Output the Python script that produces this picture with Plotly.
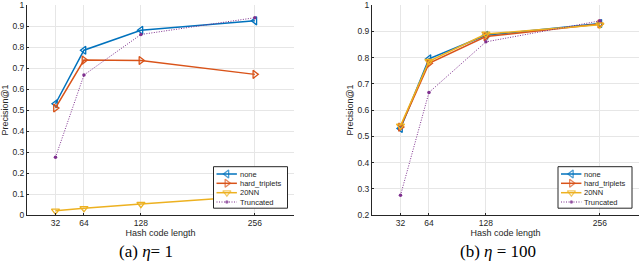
import plotly.graph_objects as go

hash_lengths = [32, 64, 128, 256]
x_tick_labels = ["32", "64", "128", "256"]
y_ticks_a = [0, 0.1, 0.2, 0.3, 0.4, 0.5, 0.6, 0.7, 0.8, 0.9, 1]
y_ticks_b = [0.2, 0.3, 0.4, 0.5, 0.6, 0.7, 0.8, 0.9, 1]

# Panel (a): eta = 1
a_none = [0.530, 0.785, 0.880, 0.925]
a_hard = [0.510, 0.738, 0.736, 0.670]
a_20nn = [0.020, 0.032, 0.052, 0.090]
a_trunc = [0.275, 0.667, 0.860, 0.940]

# Panel (b): eta = 100
b_none = [0.530, 0.795, 0.885, 0.930]
b_hard = [0.535, 0.778, 0.880, 0.928]
b_20nn = [0.540, 0.786, 0.890, 0.925]
b_trunc = [0.275, 0.667, 0.860, 0.940]

series_names = ["none", "hard_triplets", "20NN", "Truncated"]
colors = ["#0072BD", "#D95319", "#EDB120", "#7E2F8E"]
symbols = ["triangle-left-open", "triangle-right-open", "triangle-down-open", "circle"]

W, H = 640, 269
fig = go.Figure()

def style(i, name, legend_sample=False):
    trunc = name == "Truncated"
    msize = 3.5 if trunc else 7
    line = dict(color=colors[i], width=1 if trunc else 1.5,
                dash="1px,1.5px" if trunc else "solid")
    marker = dict(symbol=symbols[i], size=[0, msize, 0] if legend_sample else msize,
                  color=colors[i], line=dict(color=colors[i], width=0 if trunc else 1.3))
    return line, marker

def add_panel(data, xa, ya):
    for i, (name, vals) in enumerate(zip(series_names, data)):
        line, marker = style(i, name)
        fig.add_trace(go.Scatter(
            x=hash_lengths, y=vals, name=name, mode="lines+markers",
            xaxis=xa, yaxis=ya, showlegend=False, line=line, marker=marker))

add_panel([a_none, a_hard, a_20nn, a_trunc], "x", "y")
add_panel([b_none, b_hard, b_20nn, b_trunc], "x2", "y2")

# Compact MATLAB-style legends, drawn on a pixel-space overlay axis
legend_font = dict(family="Liberation Sans, Arial, sans-serif", size=7.5, color="#262626")
legend_boxes = [(213.5, 166.7), (558.0, 166.7)]
box_w, box_h = 74.0, 41.5
row_dy = [7.3, 16.6, 26.0, 35.3]
annotations = []
for (bx, by) in legend_boxes:
    fig.add_trace(go.Scatter(
        x=[bx, bx + box_w, bx + box_w, bx, bx], y=[by, by, by + box_h, by + box_h, by],
        mode="lines", fill="toself", fillcolor="white",
        line=dict(color="#262626", width=1), xaxis="x3", yaxis="y3",
        showlegend=False, hoverinfo="skip"))
    for i, name in enumerate(series_names):
        ly = by + row_dy[i]
        line, marker = style(i, name, legend_sample=True)
        fig.add_trace(go.Scatter(
            x=[bx + 3, bx + 13.4, bx + 23.4], y=[ly, ly, ly], mode="lines+markers",
            line=line, marker=marker,
            xaxis="x3", yaxis="y3", showlegend=False, hoverinfo="skip"))
        annotations.append(dict(
            text=name, x=(bx + 24.4) / W, y=1 - ly / H, xref="paper", yref="paper",
            xanchor="left", yanchor="middle", showarrow=False, font=legend_font))

tick_font = dict(family="Liberation Sans, Arial, sans-serif", size=8.5, color="#262626")
title_font = dict(family="Liberation Sans, Arial, sans-serif", size=9, color="#262626")

common_x = dict(range=[0, 300], tickvals=hash_lengths, ticktext=x_tick_labels,
                showgrid=True, gridcolor="#e6e6e6", gridwidth=1,
                showline=True, linecolor="#262626", linewidth=1,
                ticks="inside", ticklen=2, tickcolor="#262626",
                tickfont=tick_font, zeroline=False, automargin=False,
                title=dict(text="Hash code length", font=title_font, standoff=2))
common_y = dict(showgrid=True, gridcolor="#e6e6e6", gridwidth=1,
                showline=True, linecolor="#262626", linewidth=1,
                ticks="inside", ticklen=2, tickcolor="#262626",
                tickfont=tick_font, zeroline=False, automargin=False,
                title=dict(text="Precision@1", font=title_font, standoff=2))

y_dom = [54 / H, 264 / H]

caption_font = dict(family="Liberation Serif, DejaVu Serif, serif", size=17, color="black")
annotations += [
    dict(text="(a) <i>η</i>= 1", x=146 / W, y=1 - 251 / H, xanchor="center",
         xref="paper", yref="paper", showarrow=False, yanchor="middle", font=caption_font),
    dict(text="(b) <i>η</i> = 100", x=498 / W, y=1 - 251 / H, xanchor="center",
         xref="paper", yref="paper", showarrow=False, yanchor="middle", font=caption_font),
]

fig.update_layout(
    width=W, height=H,
    margin=dict(l=0, r=0, t=0, b=0),
    paper_bgcolor="white", plot_bgcolor="rgba(0,0,0,0)",
    xaxis=dict(common_x, domain=[27 / W, 294 / W], anchor="y"),
    yaxis=dict(common_y, domain=y_dom, range=[0, 1.0005], tickvals=y_ticks_a,
               ticktext=[f"{v:g}" for v in y_ticks_a], anchor="x"),
    xaxis2=dict(common_x, domain=[372 / W, 639 / W], anchor="y2"),
    yaxis2=dict(common_y, domain=y_dom, range=[0.2, 1.0004], tickvals=y_ticks_b,
                ticktext=[f"{v:g}" for v in y_ticks_b], anchor="x2"),
    xaxis3=dict(domain=[0, 1], range=[0, W], visible=False, fixedrange=True, anchor="y3"),
    yaxis3=dict(domain=[0, 1], range=[H, 0], visible=False, fixedrange=True, anchor="x3"),
    showlegend=False,
    hovermode=False,
    annotations=annotations,
)

fig.write_html("out.html", config={"displayModeBar": False},
               post_script="document.body.style.margin='0px';document.body.style.overflow='hidden';")
